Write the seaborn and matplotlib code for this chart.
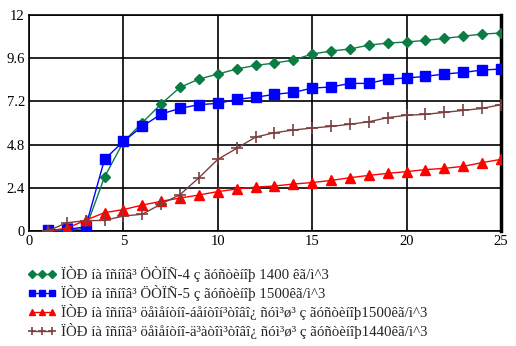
import matplotlib
matplotlib.use("Agg")
import matplotlib.pyplot as plt
import seaborn as sns
import pandas as pd

days = list(range(1, 26))

ctps4 = [0.0, 0.05, 0.13, 3.0, 4.95, 6.02, 7.06, 7.98, 8.44, 8.72, 9.0, 9.2,
         9.33, 9.5, 9.83, 10.0, 10.11, 10.33, 10.44, 10.5, 10.59, 10.7, 10.82,
         10.94, 11.0]
ctps5 = [0.05, 0.1, 0.22, 3.98, 4.98, 5.81, 6.5, 6.81, 7.02, 7.09, 7.31, 7.43,
         7.59, 7.7, 7.94, 8.0, 8.2, 8.2, 8.44, 8.5, 8.59, 8.72, 8.81, 8.94, 9.0]
bentonite = [0.0, 0.15, 0.6, 1.02, 1.19, 1.44, 1.65, 1.83, 2.0, 2.19, 2.33,
             2.44, 2.5, 2.61, 2.69, 2.81, 2.96, 3.09, 3.2, 3.3, 3.41, 3.48,
             3.59, 3.8, 3.98]
diatomite = [0.0, 0.46, 0.57, 0.59, 0.83, 0.93, 1.5, 2.02, 2.96, 3.98, 4.59,
             5.22, 5.46, 5.61, 5.72, 5.81, 5.93, 6.07, 6.3, 6.43, 6.48, 6.59,
             6.7, 6.81, 7.02]

labels = [
    "ÏÒÐ íà îñíîâ³ ÖÒÏÑ-4 ç ãóñòèíîþ 1400 êã/ì^3",
    "ÏÒÐ íà îñíîâ³ ÖÒÏÑ-5 ç ãóñòèíîþ 1500êã/ì^3",
    "ÏÒÐ íà îñíîâ³ öåìåíòíî-áåíòîí³òîâî¿ ñóì³ø³ ç ãóñòèíîþ1500êã/ì^3",
    "ÏÒÐ íà îñíîâ³ öåìåíòíî-ä³àòîì³òîâî¿ ñóì³ø³ ç ãóñòèíîþ1440êã/ì^3",
]

x_ticks = [0, 5, 10, 15, 20, 25]
y_ticks = [0, 2.4, 4.8, 7.2, 9.6, 12]
y_tick_labels = ["0", "2.4", "4.8", "7.2", "9.6", "12"]

sns.set_style("white")
plt.rcParams["font.family"] = ["Liberation Serif", "DejaVu Serif"]

fig = plt.figure(figsize=(5.16, 3.46), dpi=100)
ax = fig.add_axes([29 / 516, 1 - 231 / 346, 472 / 516, 216 / 346])

styles = [
    ("#0b7d44", "D", 5.0, 1.0),
    ("#0000ff", "s", 6.5, 1.0),
    ("#ff0000", "^", 6.5, 1.0),
    ("#7b3f3f", "+", 8.0, 1.2),
]

for vals, label, (color, marker, ms, mew) in zip(
        [ctps4, ctps5, bentonite, diatomite], labels, styles):
    df = pd.DataFrame({"day": days, "value": vals})
    sns.lineplot(data=df, x="day", y="value", ax=ax, color=color,
                 marker=marker, markersize=ms, markeredgewidth=mew,
                 markeredgecolor=color, linewidth=1.0, label=label,
                 legend=False, zorder=3)

ax.set_xlim(0, 25)
ax.set_ylim(0, 12)
ax.set_xticks(x_ticks)
ax.set_yticks(y_ticks)
ax.set_xticklabels([str(t) for t in x_ticks])
ax.set_yticklabels(y_tick_labels)
ax.set_xlabel("")
ax.set_ylabel("")
ax.grid(True, color="black", linewidth=1.2, zorder=1)
ax.set_axisbelow(True)
ax.tick_params(axis="both", length=0, labelsize=10.5, colors="black", pad=3)
for spine in ax.spines.values():
    spine.set_color("black")
    spine.set_linewidth(1.2)
ax.spines["right"].set_linewidth(2.5)

h, l = ax.get_legend_handles_labels()
fig.legend(h, l, loc="upper left", bbox_to_anchor=(28 / 516, 1 - 266 / 346),
           frameon=False, fontsize=10.7, numpoints=3, handlelength=1.9,
           handletextpad=0.3, labelspacing=0.2, markerscale=0.75,
           borderaxespad=0, borderpad=0)

fig.savefig("out.png", dpi=100)
